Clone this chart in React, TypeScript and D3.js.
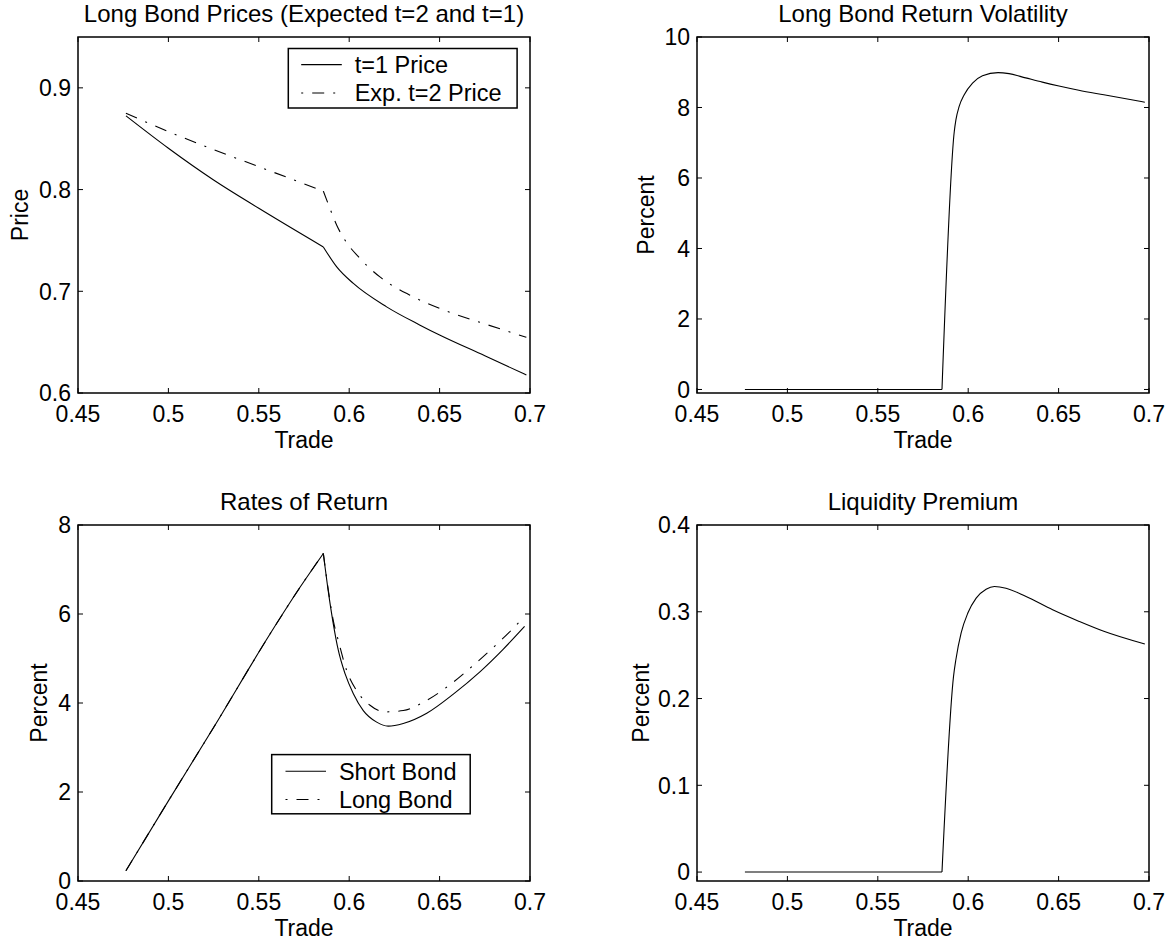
import React from 'react';
import * as d3 from 'd3';

const W = 1174;
const H = 946;
const FONT = '"Liberation Sans", Arial, Helvetica, sans-serif';
const FS = 23;
const FS_TITLE = 24;
const FS_LEGEND = 23.5;
const DASHDOT = '12,9,2,9';

type Pt = [number, number];

// ---- tick values ----
const tradeTicks = [0.45, 0.5, 0.55, 0.6, 0.65, 0.7];
const priceTicks = [0.6, 0.7, 0.8, 0.9];
const volTicks = [0, 2, 4, 6, 8, 10];
const returnTicks = [0, 2, 4, 6, 8];
const premiumTicks = [0, 0.1, 0.2, 0.3, 0.4];

// ---- Panel 1: Long Bond Prices ----
const priceT1Before: Pt[] = [
  [0.4765, 0.8725], [0.5, 0.8406], [0.525, 0.8094], [0.55, 0.7816], [0.5857, 0.7436],
];
const priceT1After: Pt[] = [
  [0.5857, 0.7436], [0.5931, 0.724], [0.6023, 0.7077], [0.6207, 0.6847], [0.6392, 0.6667],
  [0.65, 0.657], [0.675, 0.6366], [0.698, 0.6177],
];
const priceT2Before: Pt[] = [
  [0.4765, 0.875], [0.5, 0.857], [0.525, 0.8393], [0.55, 0.8225], [0.5857, 0.7985],
];
const priceT2After: Pt[] = [
  [0.5857, 0.7985], [0.5894, 0.7812], [0.5931, 0.7649], [0.5977, 0.7502], [0.606, 0.7322],
  [0.617, 0.7141], [0.6336, 0.6962], [0.652, 0.6818], [0.6723, 0.6695], [0.698, 0.6548],
];

// ---- Panel 2: Long Bond Return Volatility ----
const volBefore: Pt[] = [[0.4765, 0], [0.5855, 0]];
const volAfter: Pt[] = [
  [0.5855, 0], [0.5923, 7.32], [0.5932, 7.65], [0.595, 8.03], [0.5978, 8.36], [0.6024, 8.69],
  [0.6079, 8.9], [0.6165, 8.99], [0.6226, 8.96], [0.6318, 8.84], [0.641, 8.72], [0.6502, 8.61],
  [0.6612, 8.49], [0.675, 8.36], [0.6977, 8.15],
];

// ---- Panel 3: Rates of Return ----
const shortBefore: Pt[] = [
  [0.4765, 0.23], [0.5, 1.8], [0.525, 3.45], [0.5562, 5.55], [0.5728, 6.6], [0.5857, 7.36],
];
const shortAfter: Pt[] = [
  [0.5857, 7.36], [0.5884, 6.52], [0.5912, 5.78], [0.594, 5.18], [0.5977, 4.66], [0.6023, 4.21],
  [0.6078, 3.83], [0.6152, 3.57], [0.6216, 3.48], [0.6299, 3.54], [0.6429, 3.77], [0.6576, 4.2],
  [0.6723, 4.7], [0.685, 5.2], [0.697, 5.72],
];
const longBefore: Pt[] = [
  [0.4765, 0.23], [0.5, 1.8], [0.525, 3.45], [0.5562, 5.55], [0.5728, 6.6], [0.5857, 7.36],
];
const longAfter: Pt[] = [
  [0.5857, 7.36], [0.5884, 6.55], [0.5912, 5.85], [0.594, 5.4], [0.5986, 4.73], [0.6041, 4.28],
  [0.6115, 3.95], [0.6198, 3.8], [0.6299, 3.83], [0.6429, 4.06], [0.6576, 4.47], [0.6696, 4.88],
  [0.685, 5.45], [0.697, 5.94],
];

// ---- Panel 4: Liquidity Premium ----
const premBefore: Pt[] = [[0.4765, 0], [0.5855, 0]];
const premAfter: Pt[] = [
  [0.5855, 0], [0.5919, 0.2258], [0.5932, 0.245], [0.5961, 0.2756], [0.5998, 0.2985],
  [0.6044, 0.3157], [0.6099, 0.326], [0.6145, 0.3291], [0.6209, 0.3272], [0.632, 0.3176],
  [0.6467, 0.3023], [0.6614, 0.2889], [0.675, 0.2775], [0.6977, 0.2628],
];

interface Series { segments: Pt[][]; dashed: boolean; }
interface LegendRow { label: string; dashed: boolean; }
interface LegendSpec { x: number; y: number; w: number; h: number; lx1: number; lx2: number; tx: number; rows: LegendRow[]; rowY: number[]; }
interface PanelSpec {
  left: number; top: number; width: number; height: number;
  yDomain: [number, number]; yTicks: number[];
  title: string; ylabel: string; ylabelOffset: number;
  series: Series[]; legend?: LegendSpec;
}

const fmt = (v: number) => String(+v.toFixed(2));

function Panel({ p }: { p: PanelSpec }) {
  const x = d3.scaleLinear().domain([0.45, 0.7]).range([p.left, p.left + p.width]);
  const y = d3.scaleLinear().domain(p.yDomain).range([p.top + p.height, p.top]);
  const line = d3.line<Pt>().x(d => x(d[0])).y(d => y(d[1])).curve(d3.curveMonotoneX);
  const bottom = p.top + p.height;
  const right = p.left + p.width;
  const TL = 5;
  return (
    <g>
      {p.series.map((s, i) =>
        s.segments.map((seg, j) => (
          <path key={`${i}-${j}`} d={line(seg) || ''} fill="none" stroke="#000" strokeWidth={1.1}
            strokeDasharray={s.dashed ? DASHDOT : undefined} />
        ))
      )}
      <rect x={p.left} y={p.top} width={p.width} height={p.height} fill="none" stroke="#000" strokeWidth={1.5} />
      {tradeTicks.map(t => (
        <g key={'xt' + t}>
          <line x1={x(t)} x2={x(t)} y1={bottom} y2={bottom - TL} stroke="#000" strokeWidth={1} />
          <line x1={x(t)} x2={x(t)} y1={p.top} y2={p.top + TL} stroke="#000" strokeWidth={1} />
          <text x={x(t)} y={bottom + 29.4} textAnchor="middle" fontSize={FS} fontFamily={FONT}>{fmt(t)}</text>
        </g>
      ))}
      {p.yTicks.map(t => (
        <g key={'yt' + t}>
          <line x1={p.left} x2={p.left + TL} y1={y(t)} y2={y(t)} stroke="#000" strokeWidth={1} />
          <line x1={right} x2={right - TL} y1={y(t)} y2={y(t)} stroke="#000" strokeWidth={1} />
          <text x={p.left - 7} y={y(t)} dy="0.36em" textAnchor="end" fontSize={FS} fontFamily={FONT}>{fmt(t)}</text>
        </g>
      ))}
      <text x={p.left + p.width / 2} y={p.top - 15.5} textAnchor="middle" fontSize={FS_TITLE} fontFamily={FONT}>{p.title}</text>
      <text x={p.left + p.width / 2} y={bottom + 54.5} textAnchor="middle" fontSize={FS} fontFamily={FONT}>Trade</text>
      <text transform={`translate(${p.left - p.ylabelOffset},${p.top + p.height / 2}) rotate(-90)`} textAnchor="middle"
        fontSize={FS} fontFamily={FONT}>{p.ylabel}</text>
      {p.legend && (
        <g>
          <rect x={p.left + p.legend.x} y={p.top + p.legend.y} width={p.legend.w} height={p.legend.h}
            fill="#fff" stroke="#000" strokeWidth={1.5} />
          {p.legend.rows.map((r, i) => (
            <g key={r.label}>
              <line x1={p.left + p.legend!.lx1} x2={p.left + p.legend!.lx2} y1={p.top + p.legend!.rowY[i]} y2={p.top + p.legend!.rowY[i]}
                stroke="#000" strokeWidth={1.1} strokeDasharray={r.dashed ? '2,9,12,9' : undefined} />
              <text x={p.left + p.legend!.tx} y={p.top + p.legend!.rowY[i]} dy="0.36em" fontSize={FS_LEGEND} fontFamily={FONT}>{r.label}</text>
            </g>
          ))}
        </g>
      )}
    </g>
  );
}

const panels: PanelSpec[] = [
  {
    left: 78, top: 37, width: 452, height: 356,
    yDomain: [0.6, 0.95], yTicks: priceTicks,
    title: 'Long Bond Prices (Expected t=2 and t=1)', ylabel: 'Price', ylabelOffset: 50,
    series: [
      { segments: [priceT1Before, priceT1After], dashed: false },
      { segments: [priceT2Before, priceT2After], dashed: true },
    ],
    legend: {
      x: 210.3, y: 11.5, w: 228.8, h: 59.5, lx1: 223.2, lx2: 263.8, tx: 276.7,
      rows: [{ label: 't=1 Price', dashed: false }, { label: 'Exp. t=2 Price', dashed: true }],
      rowY: [27.6, 56],
    },
  },
  {
    left: 697, top: 37, width: 452, height: 356,
    yDomain: [-0.1, 10], yTicks: volTicks,
    title: 'Long Bond Return Volatility', ylabel: 'Percent', ylabelOffset: 42.8,
    series: [{ segments: [volBefore, volAfter], dashed: false }],
  },
  {
    left: 78, top: 525, width: 452, height: 356,
    yDomain: [0, 8], yTicks: returnTicks,
    title: 'Rates of Return', ylabel: 'Percent', ylabelOffset: 31.4,
    series: [
      { segments: [shortBefore, shortAfter], dashed: false },
      { segments: [longBefore, longAfter], dashed: true },
    ],
    legend: {
      x: 193.7, y: 229.6, w: 198.5, h: 59.2, lx1: 207.5, lx2: 248, tx: 260.9,
      rows: [{ label: 'Short Bond', dashed: false }, { label: 'Long Bond', dashed: true }],
      rowY: [246.2, 274.5],
    },
  },
  {
    left: 697, top: 525, width: 452, height: 356,
    yDomain: [-0.0103, 0.4], yTicks: premiumTicks,
    title: 'Liquidity Premium', ylabel: 'Percent', ylabelOffset: 48.5,
    series: [{ segments: [premBefore, premAfter], dashed: false }],
  },
];

export default function App() {
  return (
    <svg width={W} height={H} style={{ position: 'absolute', left: 0, top: 0, background: '#fff' }}>
      <rect x={0} y={0} width={W} height={H} fill="#fff" />
      {panels.map((p, i) => <Panel key={i} p={p} />)}
    </svg>
  );
}
